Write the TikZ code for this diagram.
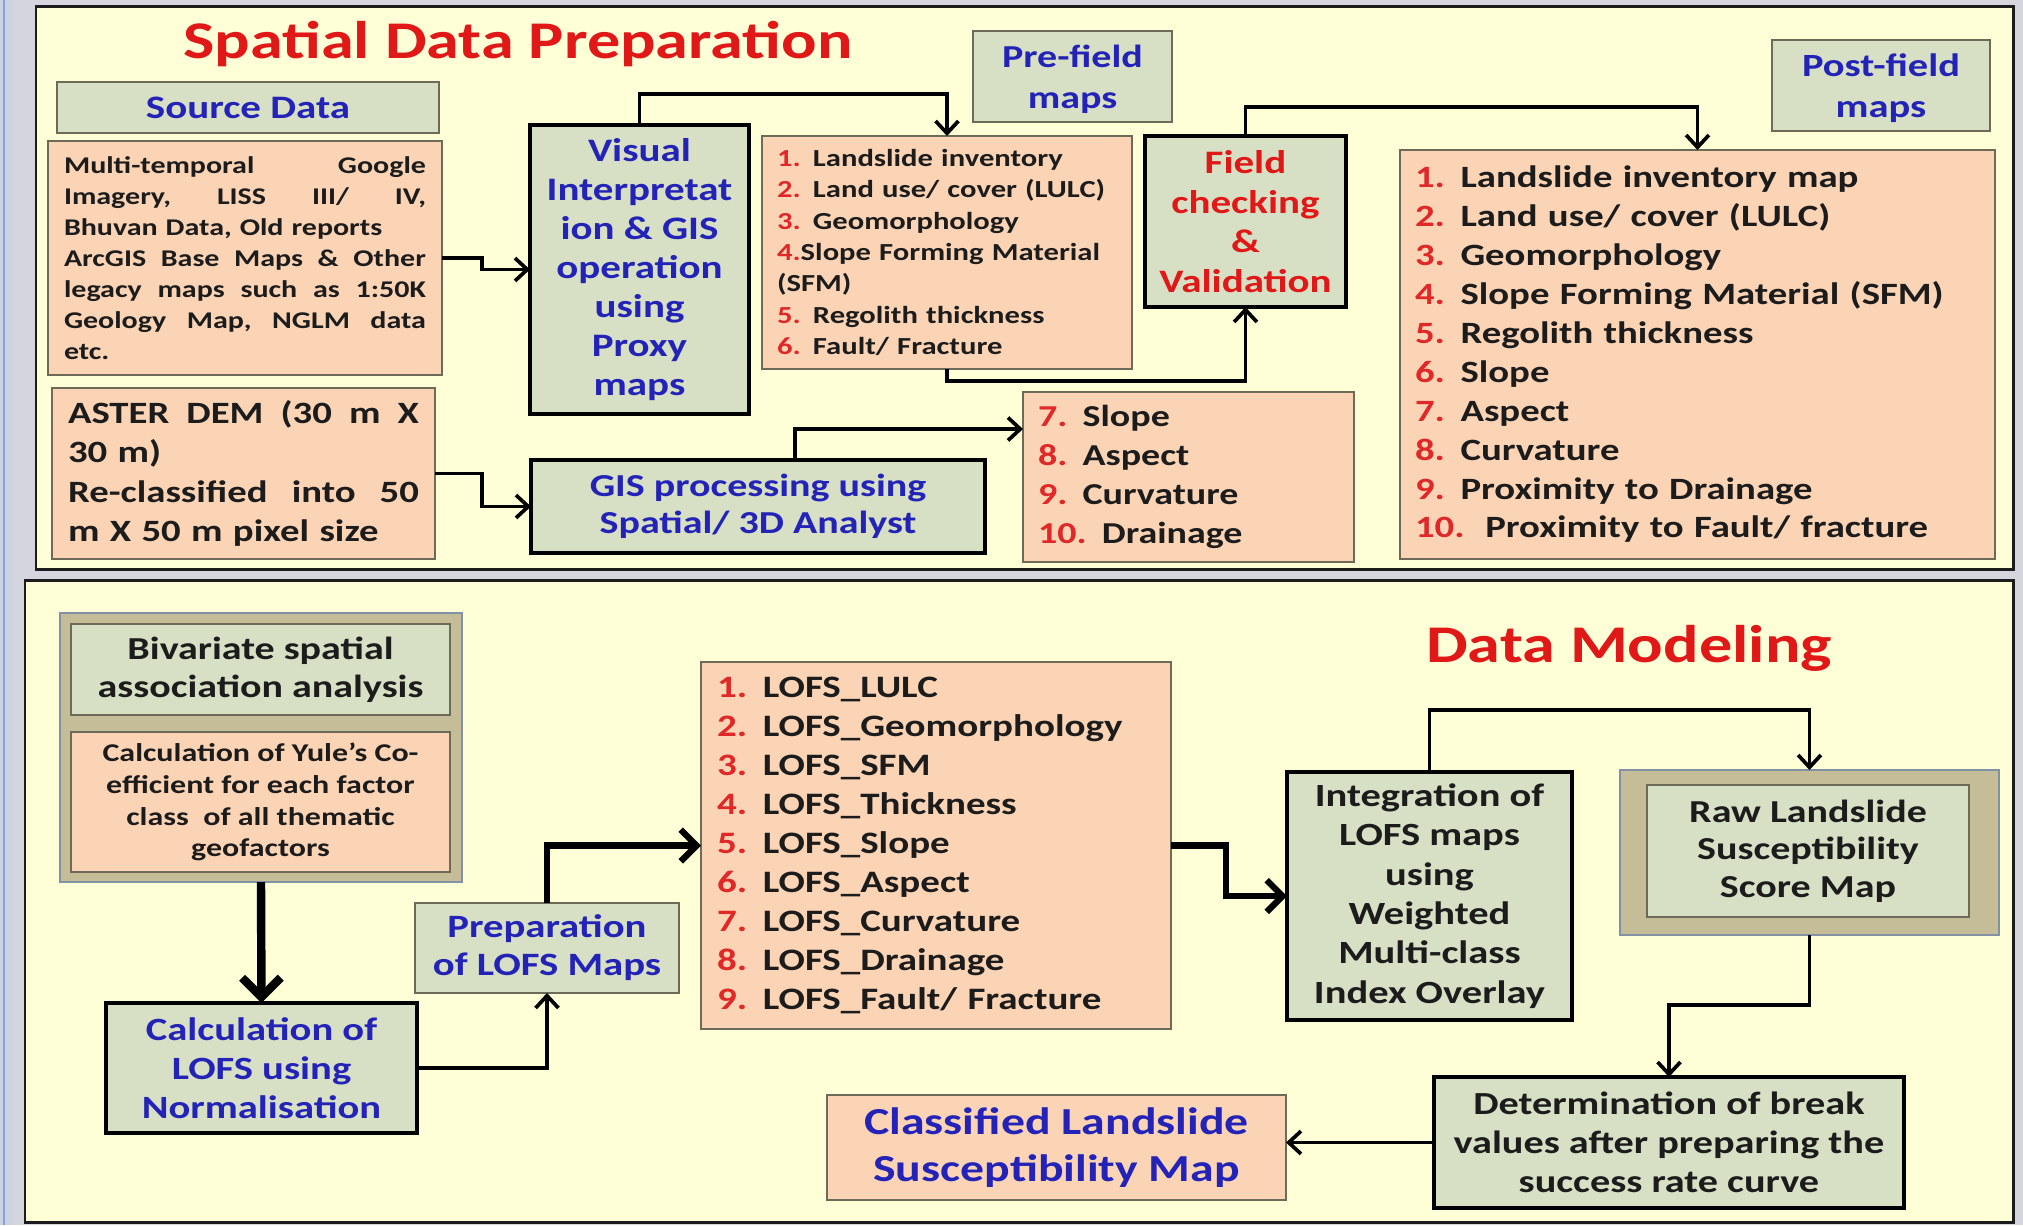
\documentclass[tikz,border=0pt]{standalone}
\usepackage{fontspec}
\setmainfont{Carlito}[FakeStretch=1.25]
\usetikzlibrary{arrows.meta,calc}

\definecolor{pagebg}{HTML}{D5D5DD}
\definecolor{stripbg}{HTML}{C9D3E4}
\definecolor{stripline}{HTML}{8AA4CF}
\definecolor{panelbg}{HTML}{FFFFD7}
\definecolor{boxgreen}{HTML}{D7E0C5}
\definecolor{peach}{HTML}{FBD4B6}
\definecolor{tanfill}{HTML}{C5BD98}
\definecolor{tanedge}{HTML}{8391A6}
\definecolor{thinedge}{HTML}{6E6A58}
\definecolor{ttlred}{HTML}{E01818}
\definecolor{numred}{HTML}{E02828}
\definecolor{txtblue}{HTML}{2323B8}
\definecolor{txtblack}{HTML}{1C1C1C}

% one drawing unit = 0.02cm
\newdimen\pxu \pxu=0.56906pt
\newcommand\fpx[2]{\fontsize{\the\dimexpr#1\pxu\relax}{\the\dimexpr#2\pxu\relax}\selectfont\bfseries}
\newcommand\rn[1]{\textcolor{numred}{#1}}
% a line spread over a given width
\newcommand\jline[2]{\makebox[#1][s]{#2}}
% box from corner (x1,y1) to corner (x2,y2)
\newcommand\bx[7]{\node[#1, minimum width={(#5-#3)*0.02cm}, minimum height={(#6-#4)*0.02cm}] (#2) at ({(#3+#5)/2},{(#4+#6)/2}) {#7};}

\tikzset{
  every node/.style={inner sep=0pt, outer sep=0pt, execute at begin node=\setlength{\parindent}{0pt}},
  panel/.style={fill=panelbg, draw=txtblack, line width=1.7pt},
  thinbox/.style={draw=thinedge, line width=1.1pt},
  greenbox/.style={thinbox, fill=boxgreen, align=center},
  peachbox/.style={thinbox, fill=peach},
  procbox/.style={fill=boxgreen, draw=black, line width=2.3pt, align=center},
  tanbox/.style={fill=tanfill, draw=tanedge, line width=1.4pt},
  listbox/.style={peachbox, align=left, text=txtblack},
  conn/.style={draw=black, line width=2.1pt, -{Straight Barb[length=7pt,width=13pt]}},
  bigconn/.style={draw=black, line width=3.6pt, -{Straight Barb[length=9pt,width=18pt]}},
  hugeconn/.style={draw=black, line width=4.8pt, -{Straight Barb[length=11pt,width=22pt]}},
}

\begin{document}
\begin{tikzpicture}[x=0.02cm, y=-0.02cm]
\useasboundingbox (0,0) rectangle (2023,1225);
% backdrop and the two panels
\fill[pagebg] (0,0) rectangle (2023,1225);
\fill[stripbg] (0,0) rectangle (12,1225);
\draw[stripline, line width=1.2pt] (4,0) -- (4,1225);
\draw[panel] (36,6) rectangle (2013,569);
\draw[panel] (25,580) rectangle (2013,1222);

% ---------- Spatial data preparation ----------
\node[font=\fpx{53}{60}, text=ttlred, anchor=base] (ttlprep) at (518,58) {Spatial Data Preparation};

\bx{greenbox, font=\fpx{32.8}{36}, text=txtblue}{srclbl}{57}{82}{439}{133}{Source Data}
\bx{listbox, text width=7.24cm, font=\fpx{24}{30.9}}{src}{48}{141}{442}{375}{%
\jline{7.24cm}{Multi-temporal\hfill Google}\\
\jline{7.24cm}{Imagery,\hfill LISS\hfill III/\hfill IV,}\\
Bhuvan Data, Old reports\\
\jline{7.24cm}{ArcGIS\hfill Base\hfill Maps\hfill \&\hfill Other}\\
\jline{7.24cm}{legacy\hfill maps\hfill such\hfill as\hfill 1:50K}\\
\jline{7.24cm}{Geology\hfill Map,\hfill NGLM\hfill data}\\
etc.}
\bx{listbox, text width=7.02cm, font=\fpx{31}{39.5}}{aster}{52}{388}{435}{559}{%
\jline{7.02cm}{ASTER\hfill DEM\hfill (30\hfill m\hfill X}\\
30 m)\\
\jline{7.02cm}{Re-classified\hfill into\hfill 50}\\
m X 50 m pixel size}

\bx{procbox, font=\fpx{32.8}{39}, text=txtblue}{vis}{530}{125}{749}{414}{Visual\\Interpretat\\ion \& GIS\\operation\\using\\Proxy\\maps}
\bx{procbox, font=\fpx{32}{37}, text=txtblue}{gis}{531}{460}{985}{553}{GIS processing using\\Spatial/ 3D Analyst}

\bx{greenbox, text depth=0pt, font=\fpx{32}{40.5}, text=txtblue}{prelbl}{973}{31}{1172}{122}{Pre-field\\maps}
\bx{listbox, text width=6.8cm, font=\fpx{24.5}{31.3}}{pre}{762}{136}{1132}{369}{%
\rn{1.} Landslide inventory\\
\rn{2.} Land use/ cover (LULC)\\
\rn{3.} Geomorphology\\
\rn{4.}Slope Forming Material\\
(SFM)\\
\rn{5.} Regolith thickness\\
\rn{6.} Fault/ Fracture}

\bx{procbox, font=\fpx{32.8}{39.5}, text=ttlred}{fld}{1145}{136}{1346}{307}{Field\\checking\\\&\\Validation}

\bx{greenbox, text depth=0pt, font=\fpx{32.4}{40.5}, text=txtblue}{postlbl}{1772}{40}{1990}{131}{Post-field\\maps}
\bx{listbox, text width=11.3cm, font=\fpx{31}{38.9}}{post}{1400}{150}{1995}{559}{%
\rn{1.} Landslide inventory map\\
\rn{2.} Land use/ cover (LULC)\\
\rn{3.} Geomorphology\\
\rn{4.} Slope Forming Material (SFM)\\
\rn{5.} Regolith thickness\\
\rn{6.} Slope\\
\rn{7.} Aspect\\
\rn{8.} Curvature\\
\rn{9.} Proximity to Drainage\\
\rn{10.}\ \ Proximity to Fault/ fracture}

\bx{listbox, text width=6.02cm, font=\fpx{30.4}{38.8}}{slope}{1023}{392}{1354}{562}{%
\rn{7.} Slope\\
\rn{8.} Aspect\\
\rn{9.} Curvature\\
\rn{10.} Drainage}

% connectors, upper panel
\draw[conn] (src.east) -- ++(40,0) |- (vis.west);
\draw[conn] (aster.east) -- ++(47,0) |- (gis.west);
\draw[conn] (vis.north) -- ++(0,-31) -| (pre.north);
\draw[conn] (pre.south) -- ++(0,12) -| (fld.south);
\draw[conn] (fld.north) -- ++(0,-29) -| (post.north);
\draw[conn] ($(gis.north)+(37,0)$) |- ($(slope.west)+(0,-48)$);

% ---------- Data modelling ----------
\node[font=\fpx{53}{60}, text=ttlred, anchor=base] (ttlmod) at (1629,662) {Data Modeling};

\bx{tanbox}{biv}{60}{613}{462}{882}{}
\bx{greenbox, font=\fpx{32}{38}, text=txtblack}{bivhead}{71}{624}{450}{715}{Bivariate spatial\\association analysis}
\bx{peachbox, align=center, font=\fpx{25.6}{31.8}, text=txtblack}{yule}{71}{732}{450}{872}{Calculation of Yule’s Co-\\efficient for each factor\\class\ \ of all thematic\\geofactors}

\bx{procbox, font=\fpx{32.5}{39}, text=txtblue}{calc}{106}{1003}{417}{1133}{Calculation of\\LOFS using\\Normalisation}
\bx{greenbox, font=\fpx{32.6}{38}, text=txtblue}{prep}{415}{903}{679}{993}{Preparation\\of LOFS Maps}

\bx{listbox, text width=8.76cm, font=\fpx{31.2}{39}}{lofs}{701}{662}{1171}{1029}{%
\rn{1.} LOFS\_LULC\\
\rn{2.} LOFS\_Geomorphology\\
\rn{3.} LOFS\_SFM\\
\rn{4.} LOFS\_Thickness\\
\rn{5.} LOFS\_Slope\\
\rn{6.} LOFS\_Aspect\\
\rn{7.} LOFS\_Curvature\\
\rn{8.} LOFS\_Drainage\\
\rn{9.} LOFS\_Fault/ Fracture}

\bx{procbox, font=\fpx{32.4}{39.4}, text=txtblack}{integ}{1287}{772}{1572}{1020}{Integration of\\LOFS maps\\using\\Weighted\\Multi-class\\Index Overlay}

\bx{tanbox}{raw}{1620}{770}{1999}{935}{}
\bx{greenbox, font=\fpx{32}{37.5}, text=txtblack}{rawin}{1647}{785}{1969}{917}{Raw Landslide\\Susceptibility\\Score Map}

\bx{procbox, font=\fpx{32.2}{39}, text=txtblack}{det}{1434}{1077}{1904}{1208}{Determination of break\\values after preparing the\\success rate curve}
\bx{peachbox, align=center, font=\fpx{38.2}{46.6}, text=txtblue}{cls}{827}{1095}{1286}{1200}{Classified Landslide\\Susceptibility Map}

% connectors, lower panel
\draw[hugeconn] (biv.south) -- (calc.north);
\draw[conn] (calc.east) -| (prep.south);
\draw[bigconn] (prep.north) |- (lofs.west);
\draw[bigconn] (lofs.east) -- ++(55,0) |- (integ.west);
\draw[conn] (integ.north) -- ++(0,-62) -| (raw.north);
\draw[conn] (raw.south) -- ++(0,70) -| (det.north);
\draw[conn] (det.west) -- (cls.east |- det.west);
\end{tikzpicture}
\end{document}
